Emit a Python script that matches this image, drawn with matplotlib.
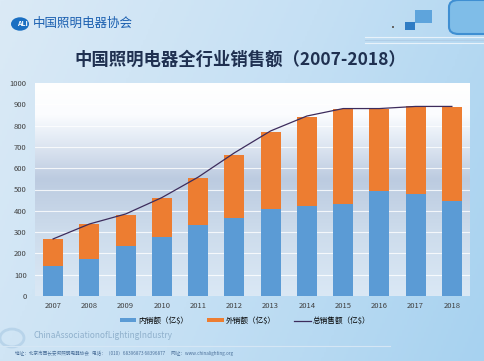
import numpy as np
import matplotlib
matplotlib.use("Agg")
import matplotlib.pyplot as plt
from matplotlib.patches import Rectangle, FancyBboxPatch, Circle
from matplotlib.lines import Line2D
from matplotlib.colors import LinearSegmentedColormap

plt.rcParams['font.family'] = ['Noto Sans CJK SC', 'DejaVu Sans']

years = ['2007', '2008', '2009', '2010', '2011', '2012', '2013', '2014', '2015', '2016', '2017', '2018']
domestic = [140, 172, 236, 275, 333, 364, 409, 422, 430, 492, 477, 445]
export_ = [128, 164, 144, 186, 222, 300, 361, 419, 450, 388, 414, 443]
total_line = [268, 338, 385, 462, 558, 672, 775, 845, 880, 880, 890, 890]
yticks = [0, 100, 200, 300, 400, 500, 600, 700, 800, 900, 1000]
title = '中国照明电器全行业销售额（2007-2018）'
legend_labels = ['内销额（亿$）', '外销额（亿$）', '总销售额（亿$）']

W, H = 484, 361
fig = plt.figure(figsize=(W / 100, H / 100), dpi=100)

# slide background gradient (left light -> right bluer)
bg = fig.add_axes([0, 0, 1, 1], zorder=0)
bg.set_axis_off()
gx = np.linspace(0, 1, 200)
gy = np.linspace(0, 1, 200)
GX, GY = np.meshgrid(gx, gy)
cmap_bg = LinearSegmentedColormap.from_list('bg', ['#dbeaf6', '#c5e0f4', '#a7d2f0'])
bg.imshow(0.75 * GX + 0.25 * GY, cmap=cmap_bg, extent=[0, 1, 0, 1], aspect='auto', origin='upper')
bg.set_xlim(0, 1)
bg.set_ylim(0, 1)

def fx(px):
    return px / W

def fy(py):
    return 1 - py / H

# header decorations
bg.add_patch(FancyBboxPatch((fx(449), fy(34)), fx(60), 34 / H, boxstyle='round,pad=0,rounding_size=0.02',
                            facecolor='#7fbde8', edgecolor='#3f8fd2', linewidth=1.5))
bg.add_patch(Rectangle((fx(415), fy(23)), fx(17), 13 / H, facecolor='#5ea4dc', edgecolor='none'))
bg.add_patch(Rectangle((fx(405), fy(30)), fx(10), 8 / H, facecolor='#2f7cc4', edgecolor='none'))
bg.add_patch(Rectangle((fx(392), fy(28)), fx(2), 2 / H, facecolor='#666666', edgecolor='none'))
for yy, c in [(37, '#e8f2fa'), (40, '#b0cde6'), (43, '#e8f2fa')]:
    bg.add_line(Line2D([fx(365), 1], [fy(yy), fy(yy)], color=c, linewidth=0.8))

# logo
bg.add_patch(Circle((fx(20), fy(24)), 9 / W, facecolor='#1a6fc2', edgecolor='none', transform=bg.transAxes))
bg.text(fx(22), fy(24), 'ALI', color='white', fontsize=5, fontweight='bold', ha='center', va='center')
bg.text(fx(33), fy(23), '中国照明电器协会', color='#1a5fb0', fontsize=9, ha='left', va='center',
        fontstyle='italic')

# title
bg.text(fx(240), fy(60), title, color='#1f3050', fontsize=12.5, fontweight='bold', ha='center', va='center')

# footer
bg.add_patch(Circle((fx(12), fy(338)), 12 / W, facecolor='none', edgecolor='#b8d4ea', linewidth=2))
bg.text(fx(33), fy(335), 'ChinaAssociationofLightingIndustry', color='#8fb0cc', fontsize=6, ha='left', va='center')
bg.add_line(Line2D([0, fx(390)], [fy(346), fy(346)], color='#d5e6f4', linewidth=0.8))
bg.text(fx(15), fy(353), '地址：北京市西长安街照明电器协会   电话：（010）68396873 68396877      网址：www.chinalighting.org',
        color='#4a6f99', fontsize=3.3, ha='left', va='center')

# chart area
ax = fig.add_axes([fx(35), fy(296), fx(470) - fx(35), (296 - 83) / H], zorder=1)
cmap_pl = LinearSegmentedColormap.from_list('pl', [(0, '#dae8f5'), (0.3, '#cddcec'), (0.55, '#bccbe0'),
                                                   (0.75, '#e6edf6'), (0.85, '#fbfcfe'), (1, '#ffffff')])
ax.imshow(np.linspace(0, 1, 256).reshape(-1, 1), cmap=cmap_pl, extent=[-0.5, len(years) - 0.5, 0, 1000],
          aspect='auto', origin='lower', zorder=0)

x = np.arange(len(years))
b1 = ax.bar(x, domestic, width=0.55, color='#5b9bd5', zorder=2)
b2 = ax.bar(x, export_, width=0.55, bottom=domestic, color='#ed7d31', zorder=2)
l1, = ax.plot(x, total_line, color='#3d2c5c', linewidth=0.9, zorder=3)

ax.set_xlim(-0.5, len(years) - 0.5)
ax.set_ylim(0, 1000)
ax.set_yticks(yticks)
ax.set_yticklabels([str(v) for v in yticks])
ax.set_xticks(x)
ax.set_xticklabels(years)
ax.tick_params(axis='both', length=0, labelsize=5.5, colors='#404040')
ax.tick_params(axis='x', pad=4)
ax.tick_params(axis='y', pad=6)
ax.grid(axis='y', color='#ffffff', linewidth=0.8, alpha=0.8, zorder=1)
ax.set_axisbelow(True)
for s in ax.spines.values():
    s.set_visible(False)

leg = fig.legend([b1, b2, l1], legend_labels, loc='center', bbox_to_anchor=(fx(245), fy(321)), ncol=3,
                 frameon=False, fontsize=5.5, handlelength=2.2, handleheight=0.5, columnspacing=2.5,
                 handletextpad=0.2)

fig.savefig('out.png', dpi=100)
